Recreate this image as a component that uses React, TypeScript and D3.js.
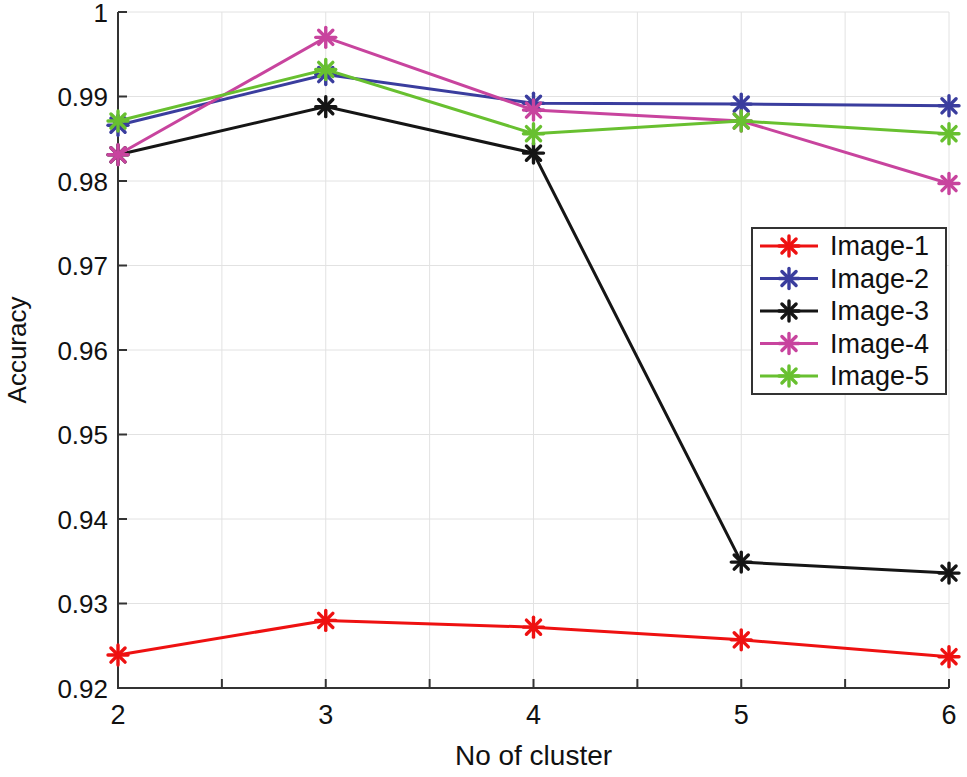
import * as d3 from 'd3';

// cluster counts on the x axis
const clusters = [2, 3, 4, 5, 6];

// accuracy per image
const image1 = [0.9239, 0.928, 0.9272, 0.9257, 0.9237];
const image2 = [0.9866, 0.9926, 0.9892, 0.9891, 0.9889];
const image3 = [0.9831, 0.9888, 0.9833, 0.9349, 0.9336];
const image4 = [0.9831, 0.997, 0.9884, 0.9871, 0.9797];
const image5 = [0.9871, 0.9932, 0.9856, 0.9871, 0.9856];

const seriesNames = ['Image-1', 'Image-2', 'Image-3', 'Image-4', 'Image-5'];
const seriesColors = ['#ee1111', '#3a3d9e', '#151515', '#c8449e', '#68c030'];

const yTicks = [0.92, 0.93, 0.94, 0.95, 0.96, 0.97, 0.98, 0.99, 1];
const xGrid = [2, 2.5, 3, 3.5, 4, 4.5, 5, 5.5, 6];

const W = 967;
const H = 777;
const margin = { left: 118, right: 18, top: 12, bottom: 89 };
const font = '"Liberation Sans", Arial, Helvetica, sans-serif';

function Star({ x, y, color, r = 10 }: { x: number; y: number; color: string; r?: number }) {
  const d = r * Math.SQRT1_2;
  return (
    <g stroke={color} strokeWidth={3.4} strokeLinecap="round">
      <line x1={x - r} y1={y} x2={x + r} y2={y} />
      <line x1={x} y1={y - r} x2={x} y2={y + r} />
      <line x1={x - d} y1={y - d} x2={x + d} y2={y + d} />
      <line x1={x - d} y1={y + d} x2={x + d} y2={y - d} />
    </g>
  );
}

export default function App() {
  const series = [image1, image2, image3, image4, image5];

  const x = d3.scaleLinear().domain([2, 6]).range([margin.left, W - margin.right]);
  const y = d3.scaleLinear().domain([0.92, 1]).range([H - margin.bottom, margin.top]);

  const line = d3
    .line<number>()
    .x((_, i) => x(clusters[i]))
    .y((d) => y(d));

  const x0 = x(2);
  const x1 = x(6);
  const yb = y(0.92);
  const yt = y(1);

  // legend box
  const lg = { left: 752, right: 946, top: 228, bottom: 394 };
  const rowY = d3.scaleLinear().domain([0, 4]).range([246, 376]);

  return (
    <svg
      width={W}
      height={H}
      style={{ position: 'absolute', left: 0, top: 0, display: 'block', background: '#fff' }}
      fontFamily={font}
    >
      {/* grid */}
      <g stroke="#e2e2e2" strokeWidth={1}>
        {yTicks.map((t) => (
          <line key={'gy' + t} x1={x0} x2={x1} y1={y(t)} y2={y(t)} />
        ))}
        {xGrid.map((t) => (
          <line key={'gx' + t} x1={x(t)} x2={x(t)} y1={yt} y2={yb} />
        ))}
      </g>

      {/* axes */}
      <g stroke="#333" strokeWidth={2}>
        <line x1={x0} x2={x0} y1={yt} y2={yb + 1} />
        <line x1={x0 - 1} x2={x1} y1={yb} y2={yb} />
        {yTicks.map((t) => (
          <line key={'ty' + t} x1={x0} x2={x0 + 9} y1={y(t)} y2={y(t)} />
        ))}
        {xGrid.map((t) => (
          <line key={'tx' + t} x1={x(t)} x2={x(t)} y1={yb} y2={yb - 9} />
        ))}
      </g>

      {/* tick labels */}
      <g fontSize={26} fill="#111">
        {yTicks.map((t) => (
          <text key={'ly' + t} x={x0 - 10} y={y(t) + 9.5} textAnchor="end">
            {d3.format('')(t)}
          </text>
        ))}
        {clusters.map((c) => (
          <text key={'lx' + c} x={x(c)} y={724} textAnchor="middle" fontSize={27}>
            {c}
          </text>
        ))}
      </g>

      {/* axis titles */}
      <text x={(x0 + x1) / 2} y={765} textAnchor="middle" fontSize={28} fill="#111">
        No of cluster
      </text>
      <text
        transform={`translate(26, ${(yt + yb) / 2}) rotate(-90)`}
        textAnchor="middle"
        fontSize={26}
        fill="#111"
      >
        Accuracy
      </text>

      {/* series */}
      {series.map((s, si) => (
        <g key={'s' + si}>
          <path d={line(s) || ''} fill="none" stroke={seriesColors[si]} strokeWidth={3} />
          {s.map((v, i) => (
            <Star key={i} x={x(clusters[i])} y={y(v)} color={seriesColors[si]} />
          ))}
        </g>
      ))}

      {/* legend */}
      <rect
        x={lg.left}
        y={lg.top}
        width={lg.right - lg.left}
        height={lg.bottom - lg.top}
        fill="#fff"
        stroke="#333"
        strokeWidth={2}
      />
      {seriesNames.map((n, i) => (
        <g key={'lg' + n}>
          <line x1={760} x2={818} y1={rowY(i)} y2={rowY(i)} stroke={seriesColors[i]} strokeWidth={3} />
          <Star x={789} y={rowY(i)} color={seriesColors[i]} />
          <text x={830} y={rowY(i)} dominantBaseline="central" fontSize={27} fill="#111">
            {n}
          </text>
        </g>
      ))}
    </svg>
  );
}
